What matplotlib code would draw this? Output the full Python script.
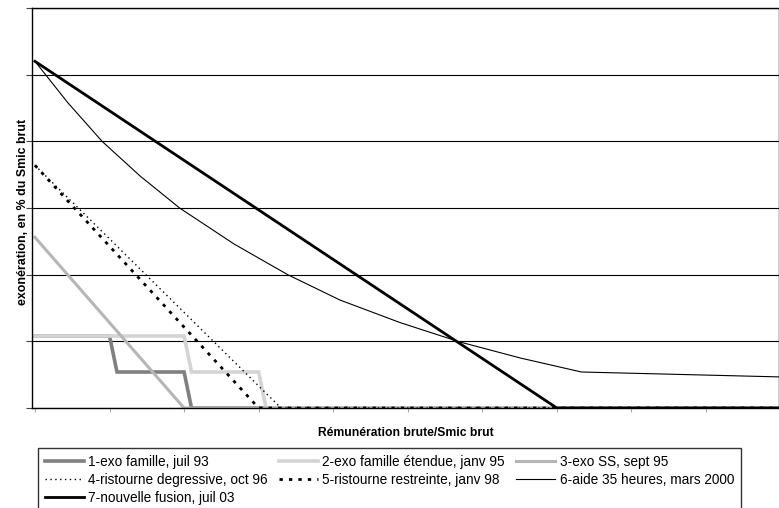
import numpy as np
import matplotlib
matplotlib.use("Agg")
import matplotlib.pyplot as plt

plt.rcParams['font.family'] = ['Liberation Sans', 'DejaVu Sans']

# series (x = salaire / Smic, y = exoneration en %)
s1_x = [1.0, 1.10, 1.11, 1.20, 1.21, 2.0]
s1_y = [5.4, 5.4, 2.7, 2.7, 0.0, 0.0]
s2_x = [1.0, 1.20, 1.21, 1.30, 1.31, 2.0]
s2_y = [5.4, 5.4, 2.7, 2.7, 0.0, 0.0]
s3_x = [1.0, 1.20, 2.0]
s3_y = [12.8, 0.0, 0.0]
s4_x = [1.0, 1.33, 2.0]
s4_y = [18.2, 0.0, 0.0]
s5_x = [1.0, 1.30, 2.0]
s5_y = [18.2, 0.0, 0.0]
s6_x = [1.0, 1.044, 1.09, 1.141, 1.194, 1.267, 1.339, 1.409, 1.49, 1.57, 1.651, 1.733, 2.0]
s6_y = [26.0, 22.9, 20.0, 17.4, 15.0, 12.3, 10.0, 8.1, 6.4, 4.95, 3.75, 2.7, 2.33]
s7_x = [1.0, 1.70, 2.0]
s7_y = [26.0, 0.0, 0.0]

labels = ['1-exo famille, juil 93', '2-exo famille étendue, janv 95', '3-exo SS, sept 95',
          '4-ristourne degressive, oct 96', '5-ristourne restreinte, janv 98',
          '6-aide 35 heures, mars 2000', '7-nouvelle fusion, juil 03']

fig = plt.figure(figsize=(7.79, 5.08), dpi=100)
ax = fig.add_axes([32/779, 1-408/508, 747/779, 400/508])

lines = []
lines += ax.plot(s1_x, s1_y, color='#808080', lw=2.6, solid_joinstyle='miter')
lines += ax.plot(s2_x, s2_y, color='#d4d4d4', lw=2.6, solid_joinstyle='miter')
lines += ax.plot(s3_x, s3_y, color='#b6b6b6', lw=2.2)
lines += ax.plot(s4_x, s4_y, color='black', lw=1.0, linestyle=(0, (1, 2.5)))
lines += ax.plot(s5_x, s5_y, color='black', lw=2.0, linestyle=(0, (1.2, 2.2)))
lines += ax.plot(s6_x, s6_y, color='black', lw=0.8)
lines += ax.plot(s7_x, s7_y, color='black', lw=2.0)

ax.set_xlim(0.996, 1.998)
ax.set_ylim(0, 30)
ax.set_yticks(np.arange(0, 31, 5))
ax.set_xticks(np.arange(1.0, 2.0, 0.1))
ax.set_yticklabels([])
ax.set_xticklabels([])
ax.tick_params(axis='y', length=4, width=0.8, color='#444444')
ax.tick_params(axis='x', length=3, width=0.8, color='#aaaaaa')
ax.grid(axis='y', color='black', lw=0.8)
ax.set_axisbelow(True)
for sp in ax.spines.values():
    sp.set_linewidth(1.0)
    sp.set_color('black')

ax.set_xlabel('Rémunération brute/Smic brut', fontsize=8.7, fontweight='bold')
ax.xaxis.set_label_coords(0.5, -0.047)
ax.set_ylabel('exonération, en % du Smic brut', fontsize=8.9, fontweight='bold')
ax.yaxis.set_label_coords(-0.004, 0.49)

# legend filled row by row like the original (matplotlib fills by column)
order = [0, 3, 6, 1, 4, 2, 5]
leg = fig.legend([lines[i] for i in order], [labels[i] for i in order],
                 loc='upper left', bbox_to_anchor=(38/779, 1-448/508), ncol=3,
                 fontsize=9.8, frameon=True, fancybox=False, handlelength=2.9,
                 handletextpad=0.3, columnspacing=0.8, borderaxespad=0,
                 borderpad=0.5, labelspacing=0.3)
leg.get_frame().set_edgecolor('black')
leg.get_frame().set_linewidth(1.0)

fig.savefig('out.png', dpi=100)
